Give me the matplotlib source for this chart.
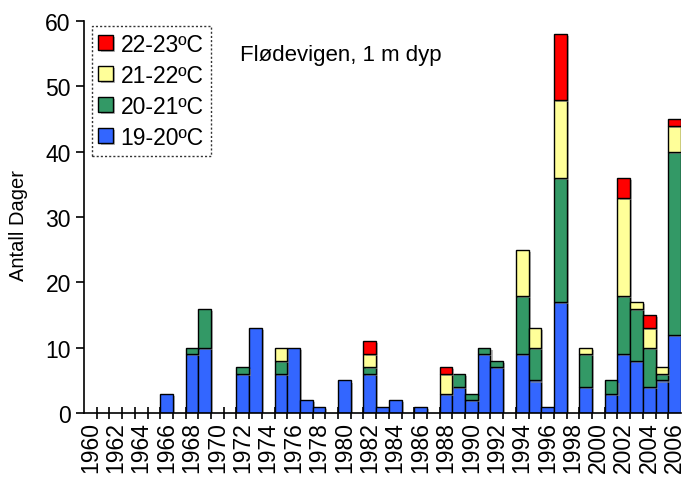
#!/usr/bin/env python3
"""Antall dager med høy temperatur, Flødevigen 1 m dyp."""
import matplotlib
matplotlib.use("Agg")
import matplotlib.pyplot as plt
import matplotlib.patheffects as pe
import numpy as np

plt.rcParams["font.family"] = ["Liberation Sans", "DejaVu Sans"]

years = list(range(1960, 2007))
# days per year in each temperature band (years not listed = 0)
blue_d = {1966: 3, 1968: 9, 1969: 10, 1972: 6, 1973: 13, 1975: 6, 1976: 10,
          1977: 2, 1978: 1, 1980: 5, 1982: 6, 1983: 1, 1984: 2, 1986: 1,
          1988: 3, 1989: 4, 1990: 2, 1991: 9, 1992: 7, 1994: 9, 1995: 5,
          1996: 1, 1997: 17, 1999: 4, 2001: 3, 2002: 9, 2003: 8, 2004: 4,
          2005: 5, 2006: 12}
green_d = {1968: 1, 1969: 6, 1972: 1, 1975: 2, 1982: 1, 1989: 2, 1990: 1,
           1991: 1, 1992: 1, 1994: 9, 1995: 5, 1997: 19, 1999: 5, 2001: 2,
           2002: 9, 2003: 8, 2004: 6, 2005: 1, 2006: 28}
yellow_d = {1975: 2, 1982: 2, 1988: 3, 1994: 7, 1995: 3, 1997: 12, 1999: 1,
            2002: 15, 2003: 1, 2004: 3, 2005: 1, 2006: 4}
red_d = {1982: 2, 1988: 1, 1997: 10, 2002: 3, 2004: 2, 2006: 1}

labels = ["19-20ºC", "20-21ºC", "21-22ºC", "22-23ºC"]
colors = ["#3366FF", "#339966", "#FFFF99", "#FF0000"]
series = [blue_d, green_d, yellow_d, red_d]

fig = plt.figure(figsize=(6.83, 4.81), dpi=100)
ax = fig.add_axes([0.123, 0.139, 0.874, 0.815])

bottom = {y: 0 for y in years}
shadow = [pe.SimplePatchShadow(offset=(1.5, -1.5), shadow_rgbFace="#888888",
                               alpha=0.6), pe.Normal()]
for lab, col, d in zip(labels, colors, series):
    xs = sorted(d)
    vals = [d[y] for y in xs]
    bots = [bottom[y] for y in xs]
    bars = ax.bar(xs, vals, width=1.0, bottom=bots, color=col,
                  edgecolor="black", linewidth=1.0, label=lab, zorder=2)
    for b in bars:
        b.set_path_effects(shadow)
    for y in xs:
        bottom[y] += d[y]

ax.set_xlim(1959.5, 2006.5)
ax.set_ylim(0, 60)
ax.set_yticks(range(0, 61, 10))
ax.set_xticks(years[::2])
ax.set_xticklabels([str(y) for y in years[::2]], rotation=90)
ax.set_xticks(np.arange(1960.5, 2006, 1.0), minor=True)
ax.tick_params(axis="x", which="major", length=0, pad=6, labelsize=16.5)
ax.tick_params(axis="x", which="minor", direction="inout", length=9,
               width=1.2)
ax.tick_params(axis="y", direction="out", length=6, width=1.2,
               labelsize=16.5)

for s in ["top", "right"]:
    ax.spines[s].set_visible(False)
ax.spines["left"].set_linewidth(1.2)
ax.spines["bottom"].set_linewidth(1.2)

ax.set_ylabel("Antall Dager", fontsize=14.5)
ax.yaxis.set_label_coords(-0.094, 0.48)
ax.text(0.262, 0.915, "Flødevigen, 1 m dyp", transform=ax.transAxes,
        fontsize=16, ha="left", va="center")

h, l = ax.get_legend_handles_labels()
leg = ax.legend(h[::-1], l[::-1], loc="upper left",
                bbox_to_anchor=(0.005, 1.0), fontsize=16.5, frameon=True,
                fancybox=False, handlelength=0.62, handleheight=0.62,
                handletextpad=0.35, borderpad=0.3, labelspacing=0.35,
                borderaxespad=0.2)
leg.get_frame().set_linestyle((0, (1.5, 1.5)))
leg.get_frame().set_edgecolor("black")
leg.get_frame().set_linewidth(1.0)

fig.savefig("out.png", dpi=100)
